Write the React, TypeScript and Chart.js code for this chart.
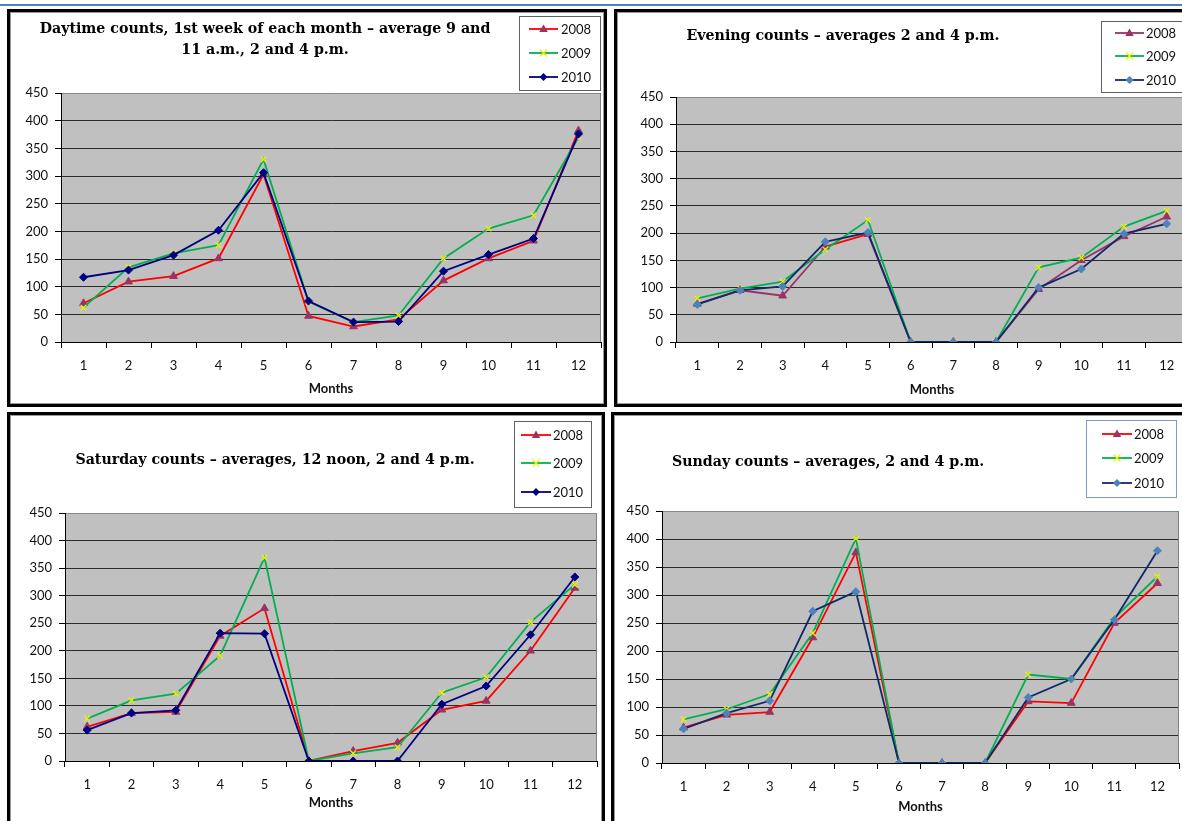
import React, { useEffect, useRef } from 'react';
import { Chart, registerables } from 'chart.js';

Chart.register(...registerables);

// ---------------- data ----------------
const months = ['1', '2', '3', '4', '5', '6', '7', '8', '9', '10', '11', '12'];
const years = ['2008', '2009', '2010'];
const yTicksMax = 450;
const yTickStep = 50;

const daytime2008 = [70, 109, 119, 151, 303, 47, 28, 41, 111, 151, 183, 382];
const daytime2009 = [62, 135, 160, 175, 330, 73, 36, 48, 151, 205, 229, 370];
const daytime2010 = [117, 130, 157, 202, 306, 74, 36, 37, 128, 158, 187, 376];

const evening2008 = [70, 95, 85, 175, 198, 0, 0, 0, 97, 150, 194, 230];
const evening2009 = [80, 98, 111, 170, 224, 0, 0, 0, 137, 155, 212, 241];
const evening2010 = [69, 95, 102, 184, 201, 0, 0, 0, 100, 134, 199, 217];

const saturday2008 = [62, 87, 89, 227, 277, 0, 18, 33, 93, 109, 200, 314];
const saturday2009 = [77, 110, 122, 191, 369, 0, 14, 25, 124, 152, 252, 320];
const saturday2010 = [56, 87, 92, 232, 231, 0, 0, 0, 103, 136, 229, 334];

const sunday2008 = [63, 86, 91, 224, 376, 0, 0, 0, 110, 107, 250, 321];
const sunday2009 = [78, 96, 123, 232, 401, 0, 0, 0, 158, 150, 259, 333];
const sunday2010 = [61, 89, 111, 271, 306, 0, 0, 0, 117, 150, 256, 379];

const titleDaytime = ['Daytime counts, 1st week of each month \u2013 average 9 and', '11 a.m., 2 and 4 p.m.'];
const titleEvening = ['Evening counts \u2013 averages 2 and 4 p.m.'];
const titleSaturday = ['Saturday counts \u2013 averages, 12 noon, 2 and 4 p.m.'];
const titleSunday = ['Sunday counts \u2013 averages, 2 and 4 p.m.'];
const xTitle = 'Months';

// ---------------- styles ----------------
const RED = '#FF0000';
const MAUVE = '#993366';
const GREEN = '#00B050';
const YELLOW = '#EEF000';
const NAVY = '#000080';
const DARKNAVY = '#10296B';
const LIGHTBLUE = '#4F81BD';

const TICK_FONT = { family: 'Lato, "Open Sans", sans-serif', size: 13 };
const LEGEND_FONT = '13px Lato, "Open Sans", sans-serif';
const TITLE_FONT = 'bold 14.2px "DejaVu Serif", "Liberation Serif", serif';

type SeriesStyle = {
  line: string;
  marker: string;
  style: 'triangle' | 'crossRot' | 'rectRot';
  redSegment?: number;
};

type PanelCfg = {
  box: { x: number; y: number; w: number; h: number };
  plot: { l: number; t: number; r: number; b: number };
  xH: number;
  title: string[];
  titleCx: number;
  titleCy: number;
  titleGap: number;
  legend: { x: number; y: number; w: number; h: number; rows: number[]; lx1: number; lx2: number; tx: number; border: string };
  data: number[][];
  styles: SeriesStyle[];
};

const Y_W = 40;

const panels: PanelCfg[] = [
  {
    box: { x: 7, y: 9, w: 600, h: 398 },
    plot: { l: 61, t: 93, r: 601, b: 342 },
    xH: 55,
    title: titleDaytime,
    titleCx: 265,
    titleCy: 29,
    titleGap: 21,
    legend: { x: 519, y: 16, w: 81, h: 74, rows: [29, 53, 77], lx1: 529, lx2: 558, tx: 561, border: '#606060' },
    data: [daytime2008, daytime2009, daytime2010],
    styles: [
      { line: RED, marker: MAUVE, style: 'triangle' },
      { line: GREEN, marker: YELLOW, style: 'crossRot' },
      { line: NAVY, marker: NAVY, style: 'rectRot' },
    ],
  },
  {
    box: { x: 614, y: 9, w: 600, h: 398 },
    plot: { l: 676, t: 97, r: 1188, b: 342 },
    xH: 56,
    title: titleEvening,
    titleCx: 843,
    titleCy: 36,
    titleGap: 21,
    legend: { x: 1101, y: 21, w: 100, h: 71, rows: [33, 56, 80], lx1: 1115, lx2: 1144, tx: 1146, border: '#606060' },
    data: [evening2008, evening2009, evening2010],
    styles: [
      { line: MAUVE, marker: MAUVE, style: 'triangle', redSegment: 3 },
      { line: GREEN, marker: YELLOW, style: 'crossRot' },
      { line: DARKNAVY, marker: LIGHTBLUE, style: 'rectRot' },
    ],
  },
  {
    box: { x: 7, y: 412, w: 598, h: 420 },
    plot: { l: 65, t: 513, r: 597, b: 761 },
    xH: 50,
    title: titleSaturday,
    titleCx: 275,
    titleCy: 460,
    titleGap: 21,
    legend: { x: 514, y: 421, w: 77, h: 86, rows: [435, 463, 492], lx1: 521, lx2: 551, tx: 553, border: '#606060' },
    data: [saturday2008, saturday2009, saturday2010],
    styles: [
      { line: RED, marker: MAUVE, style: 'triangle' },
      { line: GREEN, marker: YELLOW, style: 'crossRot' },
      { line: NAVY, marker: NAVY, style: 'rectRot' },
    ],
  },
  {
    box: { x: 611, y: 412, w: 600, h: 420 },
    plot: { l: 662, t: 511, r: 1179, b: 763 },
    xH: 52,
    title: titleSunday,
    titleCx: 828,
    titleCy: 462,
    titleGap: 21,
    legend: { x: 1086, y: 420, w: 90, h: 77, rows: [434, 458, 483], lx1: 1102, lx2: 1132, tx: 1134, border: '#7F98C8' },
    data: [sunday2008, sunday2009, sunday2010],
    styles: [
      { line: RED, marker: MAUVE, style: 'triangle' },
      { line: GREEN, marker: YELLOW, style: 'crossRot' },
      { line: DARKNAVY, marker: LIGHTBLUE, style: 'rectRot' },
    ],
  },
];

function drawMarker(ctx: CanvasRenderingContext2D, style: string, x: number, y: number, color: string) {
  ctx.save();
  ctx.fillStyle = color;
  ctx.strokeStyle = color;
  if (style === 'triangle') {
    const r = 4.5;
    ctx.beginPath();
    ctx.moveTo(x, y - r);
    ctx.lineTo(x + r * 0.95, y + r * 0.65);
    ctx.lineTo(x - r * 0.95, y + r * 0.65);
    ctx.closePath();
    ctx.fill();
  } else if (style === 'crossRot') {
    const r = 3.5;
    ctx.lineWidth = 1.3;
    ctx.beginPath();
    ctx.moveTo(x - r, y - r);
    ctx.lineTo(x + r, y + r);
    ctx.moveTo(x + r, y - r);
    ctx.lineTo(x - r, y + r);
    ctx.stroke();
  } else {
    const r = 4;
    ctx.beginPath();
    ctx.moveTo(x, y - r);
    ctx.lineTo(x + r, y);
    ctx.lineTo(x, y + r);
    ctx.lineTo(x - r, y);
    ctx.closePath();
    ctx.fill();
  }
  ctx.restore();
}

function buildConfig(cfg: PanelCfg): any {
  const { box, plot } = cfg;
  const padding = {
    left: plot.l - box.x - Y_W,
    top: plot.t - box.y,
    right: box.x + box.w - plot.r,
    bottom: box.y + box.h - plot.b - cfg.xH,
  };

  const bgPlugin = {
    id: 'plotBg',
    beforeDraw(chart: any) {
      const { ctx, chartArea: a } = chart;
      ctx.save();
      ctx.fillStyle = '#C0C0C0';
      ctx.fillRect(a.left, a.top, a.right - a.left, a.bottom - a.top);
      ctx.restore();
    },
    beforeDatasetsDraw(chart: any) {
      const { ctx, chartArea: a } = chart;
      ctx.save();
      ctx.strokeStyle = '#808080';
      ctx.lineWidth = 1;
      ctx.beginPath();
      ctx.moveTo(Math.round(a.right) - 0.5, a.top);
      ctx.lineTo(Math.round(a.right) - 0.5, a.bottom);
      ctx.stroke();
      ctx.restore();
    },
  };

  const decorPlugin = {
    id: 'decor',
    afterDraw(chart: any) {
      const ctx: CanvasRenderingContext2D = chart.ctx;
      ctx.save();
      // title
      ctx.font = TITLE_FONT;
      ctx.fillStyle = '#000';
      ctx.textAlign = 'center';
      ctx.textBaseline = 'middle';
      cfg.title.forEach((line, i) => {
        ctx.fillText(line, cfg.titleCx - box.x, cfg.titleCy - box.y + i * cfg.titleGap);
      });
      // legend
      const L = cfg.legend;
      ctx.fillStyle = '#FFFFFF';
      ctx.fillRect(L.x - box.x, L.y - box.y, L.w, L.h);
      ctx.strokeStyle = L.border;
      ctx.lineWidth = 1;
      ctx.strokeRect(L.x - box.x + 0.5, L.y - box.y + 0.5, L.w, L.h);
      ctx.font = LEGEND_FONT;
      ctx.textAlign = 'left';
      ctx.textBaseline = 'middle';
      years.forEach((yr, i) => {
        const st = cfg.styles[i];
        const ry = L.rows[i] - box.y;
        ctx.strokeStyle = st.line;
        ctx.lineWidth = 1.8;
        ctx.beginPath();
        ctx.moveTo(L.lx1 - box.x, ry);
        ctx.lineTo(L.lx2 - box.x, ry);
        ctx.stroke();
        drawMarker(ctx, st.style, (L.lx1 + L.lx2) / 2 - box.x, ry, st.marker);
        ctx.fillStyle = '#111';
        ctx.fillText(yr, L.tx - box.x, ry + 1);
      });
      ctx.restore();
    },
  };

  return {
    type: 'line',
    data: {
      labels: months,
      datasets: cfg.data.map((d, i) => {
        const st = cfg.styles[i];
        return {
          label: years[i],
          data: d,
          borderColor: st.line,
          backgroundColor: st.marker,
          pointBackgroundColor: st.marker,
          pointBorderColor: st.marker,
          pointBorderWidth: st.style === 'crossRot' ? 1.3 : 1,
          pointStyle: st.style,
          pointRadius: st.style === 'crossRot' ? 4 : st.style === 'triangle' ? 4.5 : 4,
          borderWidth: 1.8,
          tension: 0,
          fill: false,
          order: 3 - i,
          segment: st.redSegment !== undefined
            ? { borderColor: (c: any) => (c.p0DataIndex === st.redSegment ? RED : undefined) }
            : undefined,
        };
      }),
    },
    options: {
      animation: false,
      responsive: false,
      events: [],
      layout: { padding },
      plugins: {
        legend: { display: false },
        title: { display: false },
        tooltip: { enabled: false },
      },
      scales: {
        x: {
          type: 'category',
          offset: true,
          grid: {
            offset: true,
            drawOnChartArea: false,
            drawTicks: true,
            tickLength: 6,
            tickColor: '#000',
            tickWidth: 1,
          },
          border: { display: true, color: '#000', width: 1 },
          ticks: { font: TICK_FONT, color: '#111', padding: 10, maxRotation: 0, autoSkip: false },
          title: {
            display: true,
            text: xTitle,
            font: { family: 'Lato, "Open Sans", sans-serif', size: 13, weight: 'bold' },
            color: '#111',
            padding: 0,
          },
          afterFit(s: any) {
            s.height = cfg.xH;
            s.paddingLeft = 0;
            s.paddingRight = 0;
          },
        },
        y: {
          min: 0,
          max: yTicksMax,
          ticks: { stepSize: yTickStep, font: TICK_FONT, color: '#111', padding: 7 },
          grid: {
            color: (c: any) => (c.tick && c.tick.value === yTicksMax ? '#8a8a8a' : '#2b2b2b'),
            lineWidth: 1,
            drawTicks: true,
            tickLength: 6,
            tickColor: '#000',
          },
          border: { display: true, color: '#000', width: 1 },
          afterFit(s: any) {
            s.width = Y_W;
            s.paddingTop = 0;
            s.paddingBottom = 0;
          },
        },
      },
    },
    plugins: [bgPlugin, decorPlugin],
  };
}

function Panel({ cfg }: { cfg: PanelCfg }) {
  const ref = useRef<HTMLCanvasElement>(null);
  useEffect(() => {
    if (!ref.current) return;
    const chart = new Chart(ref.current, buildConfig(cfg));
    return () => chart.destroy();
  }, [cfg]);
  const { x, y, w, h } = cfg.box;
  return (
    <>
      <canvas
        ref={ref}
        width={w}
        height={h}
        style={{ position: 'absolute', left: x, top: y, width: w, height: h }}
      />
      <div
        style={{
          position: 'absolute',
          left: x,
          top: y,
          width: w,
          height: h,
          boxSizing: 'border-box',
          border: '3px solid #000',
          boxShadow: 'inset 0 0 0 1px #9a9a9a',
          pointerEvents: 'none',
        }}
      />
    </>
  );
}

export default function App() {
  return (
    <div
      style={{
        position: 'fixed',
        left: 0,
        top: 0,
        width: 1182,
        height: 821,
        overflow: 'hidden',
        background: '#FFFFFF',
      }}
    >
      <div style={{ position: 'absolute', left: 0, top: 4, width: 1182, height: 2, background: '#4F81BD' }} />
      {panels.map((p, i) => (
        <Panel key={i} cfg={p} />
      ))}
    </div>
  );
}
